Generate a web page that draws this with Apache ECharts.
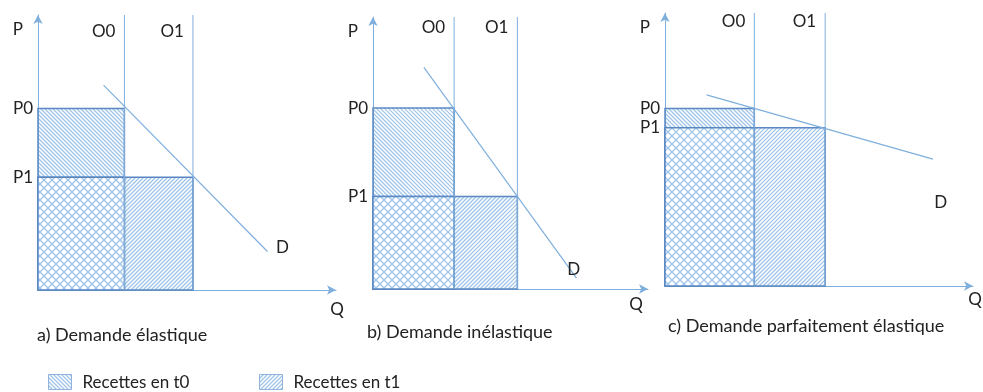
<!DOCTYPE html>
<html>
<head>
<meta charset="utf-8">
<script src="https://cdn.jsdelivr.net/npm/echarts@6/dist/echarts.min.js"></script>
<style>
  html, body { margin: 0; background: #fff; }
  #main { width: 983px; height: 392px; }
</style>
</head>
<body>
<div id="main"></div>
<script>
// données (échelle 0-10 sur chaque axe)
const captions = ['a) Demande élastique', 'b) Demande inélastique', 'c) Demande parfaitement élastique'];
const q0 = [2.9, 2.95, 2.9];
const q1 = [5.2, 5.25, 5.2];
const p0 = [6.6, 6.65, 6.5];
const p1 = [4.1, 3.4, 5.8];
const demandStart = [[2.2, 7.45], [1.85, 8.15], [1.35, 7.0]];
const demandEnd = [[7.7, 1.4], [7.4, 0.4], [8.7, 4.65]];
const dLabel = [[8.2, 1.55], [7.3, 0.7], [8.95, 3.05]];
const legendNames = ['Recettes en t0', 'Recettes en t1'];
const axisMax = 10;

// mise en page
const grids = [
  { left: 38, top: 15, width: 298, height: 275 },
  { left: 373, top: 17, width: 275, height: 272 },
  { left: 665, top: 13, width: 308, height: 273 },
];
const captionPos = [[37, 336], [367, 333], [668, 327]];
const legendPos = [46, 257];
const oLabelDy = [17, 11, 9];
const qLabelOffset = [[1, 20], [-12, 16], [2, 14]];

const axisColor = '#7fafdd';
const borderColor = '#5a88c2';
const hatchColor = '#9fc4ea';
const textColor = '#222';
const font = '17px Lato';

// hachures : segments diagonaux coupés au rectangle (x0,y0)-(x1,y1), en pixels
function hatchLines(x0, y0, x1, y1, dir, step, width, phase) {
  const out = [];
  const style = { stroke: hatchColor, lineWidth: width || 1 };
  const ph = phase || 0;
  if (dir === 'down') {
    // y = x + c
    for (let c = Math.floor((y0 - x1) / step) * step + ph; c <= y1 - x0; c += step) {
      const a = Math.max(x0, y0 - c), b = Math.min(x1, y1 - c);
      if (b > a) out.push({ type: 'line', shape: { x1: a, y1: a + c, x2: b, y2: b + c }, style });
    }
  } else {
    // y = -x + c
    for (let c = Math.floor((x0 + y0) / step) * step + ph; c <= x1 + y1; c += step) {
      const a = Math.max(x0, c - y1), b = Math.min(x1, c - y0);
      if (b > a) out.push({ type: 'line', shape: { x1: a, y1: c - a, x2: b, y2: c - b }, style });
    }
  }
  return out;
}
function fillFor(kind, x0, y0, x1, y1) {
  if (kind === 't0') return hatchLines(x0, y0, x1, y1, 'down', 4, 1.3);
  if (kind === 't1') return hatchLines(x0, y0, x1, y1, 'up', 4, 1.3, 1);
  return [{ type: 'rect', shape: { x: x0, y: y0, width: x1 - x0, height: y1 - y0 }, style: { fill: '#fff' } }]
    .concat(hatchLines(x0, y0, x1, y1, 'down', 8, 1.3))
    .concat(hatchLines(x0, y0, x1, y1, 'up', 8, 1.3));
}

const myChart = echarts.init(document.getElementById('main'));
window.addEventListener('resize', () => myChart.resize());

function rectSeries(name, i, q, p, kind, z) {
  return {
    type: 'custom',
    name: name,
    xAxisIndex: i,
    yAxisIndex: i,
    z: z,
    silent: true,
    data: [[q, p]],
    renderItem: (params, api) => {
      const o = api.coord([0, 0]);
      const c = api.coord([api.value(0), api.value(1)]);
      return {
        type: 'group',
        children: fillFor(kind, o[0], c[1], c[0], o[1]).concat([{
          type: 'rect',
          shape: { x: o[0], y: c[1], width: c[0] - o[0], height: o[1] - c[1] },
          style: { fill: null, stroke: borderColor, lineWidth: 1.5 },
        }]),
      };
    },
  };
}

function text(x, y, str, align) {
  return {
    type: 'text',
    x: x,
    y: y,
    style: { text: str, fill: textColor, font: font, align: align || 'center', verticalAlign: 'middle' },
  };
}

const series = [];
grids.forEach((g, i) => {
  series.push(rectSeries(legendNames[0], i, q0[i], p0[i], 't0', 2));
  series.push(rectSeries(legendNames[1], i, q1[i], p1[i], 't1', 3));
  series.push(rectSeries('t0 et t1', i, Math.min(q0[i], q1[i]), Math.min(p0[i], p1[i]), 'both', 4));
  // courbe de demande
  series.push({
    type: 'line',
    name: 'D',
    xAxisIndex: i,
    yAxisIndex: i,
    z: 6,
    silent: true,
    showSymbol: false,
    lineStyle: { color: axisColor, width: 1.2 },
    data: [demandStart[i], demandEnd[i]],
  });
  // offres O0, O1 et étiquettes
  series.push({
    type: 'custom',
    xAxisIndex: i,
    yAxisIndex: i,
    z: 7,
    silent: true,
    data: [[q0[i], q1[i], p0[i], p1[i]]],
    renderItem: (params, api) => {
      const o = api.coord([0, 0]);
      const top = api.coord([0, axisMax]);
      const end = api.coord([axisMax, 0]);
      const xo0 = api.coord([api.value(0), 0])[0];
      const xo1 = api.coord([api.value(1), 0])[0];
      const yp0 = api.coord([0, api.value(2)])[1];
      const yp1 = api.coord([0, api.value(3)])[1];
      const d = api.coord(dLabel[i]);
      const line = (x) => ({
        type: 'line',
        shape: { x1: x, y1: o[1], x2: x, y2: top[1] },
        style: { stroke: axisColor, lineWidth: 1 },
      });
      return {
        type: 'group',
        children: [
          line(xo0),
          line(xo1),
          text(xo0 - 9, top[1] + oLabelDy[i], 'O0', 'right'),
          text(xo1 - 9, top[1] + oLabelDy[i], 'O1', 'right'),
          text(o[0] - 5, yp0, 'P0', 'right'),
          text(o[0] - 5, yp1, 'P1', 'right'),
          text(top[0] - 15, top[1] + 15, 'P', 'right'),
          text(end[0] + qLabelOffset[i][0], end[1] + qLabelOffset[i][1], 'Q'),
          text(d[0], d[1], 'D'),
        ],
      };
    },
  });
});

const axis = (i) => ({
  gridIndex: i,
  type: 'value',
  min: 0,
  max: axisMax,
  axisLine: {
    show: true,
    onZero: false,
    symbol: ['none', 'arrow'],
    symbolSize: [7, 9],
    lineStyle: { color: axisColor, width: 1 },
  },
  axisTick: { show: false },
  axisLabel: { show: false },
  splitLine: { show: false },
});

// légende dessinée à la main pour garder les hachures
const legendGraphics = legendNames.map((name, k) => ({
  type: 'group',
  left: legendPos[k],
  top: 372,
  children: fillFor(k === 0 ? 't0' : 't1', 0, 1, 23, 16).concat([
    {
      type: 'rect',
      shape: { x: 0, y: 1, width: 23, height: 15 },
      style: { fill: null, stroke: '#8fb3dc', lineWidth: 1 },
    },
    {
      type: 'text',
      x: 34,
      y: 9,
      style: { text: name, fill: textColor, font: font, verticalAlign: 'middle' },
    },
  ]),
}));

let option = {
  animation: false,
  backgroundColor: '#fff',
  grid: grids,
  xAxis: grids.map((g, i) => axis(i)),
  yAxis: grids.map((g, i) => axis(i)),
  graphic: captions.map((c, i) => ({
    type: 'text',
    left: captionPos[i][0],
    top: captionPos[i][1] - 10,
    style: { text: c, fill: textColor, font: '18px Lato' },
  })).concat(legendGraphics),
  series: series,
};
myChart.setOption(option);
</script>
</body>
</html>
